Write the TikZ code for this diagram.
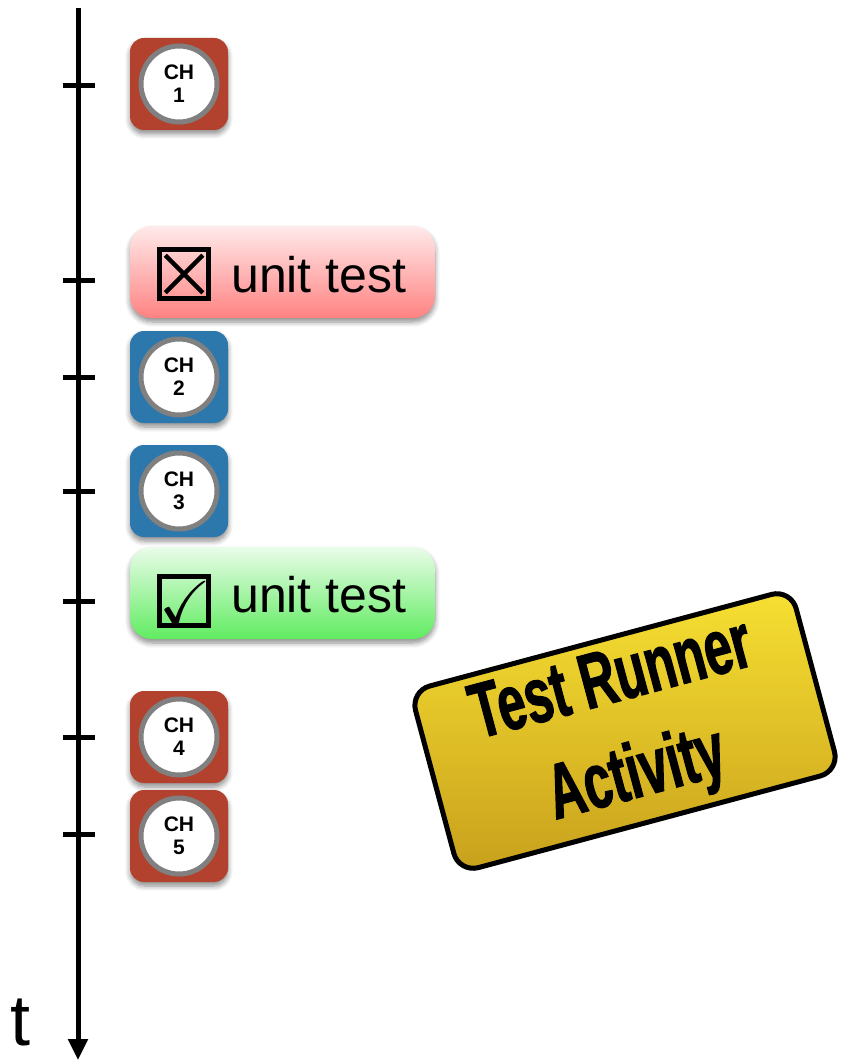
\documentclass[tikz,border=0pt]{standalone}
\usepackage{amssymb}
\usepackage{fontspec}
\setmainfont{Liberation Sans}
\newfontfamily\cardfont[FakeStretch=0.64,FakeBold=1.4]{Liberation Sans}
\usetikzlibrary{shadows.blur,arrows.meta}

\definecolor{badgered}{RGB}{178,66,46}
\definecolor{badgeblue}{RGB}{44,120,172}
\definecolor{ringgray}{RGB}{128,128,128}
\definecolor{failtop}{RGB}{255,234,234}
\definecolor{failbottom}{RGB}{255,130,130}
\definecolor{passtop}{RGB}{234,252,234}
\definecolor{passbottom}{RGB}{96,236,96}
\definecolor{cardtop}{RGB}{247,224,50}
\definecolor{cardbottom}{RGB}{200,160,28}

\tikzset{
  softshadow/.style={blur shadow={shadow xshift=0pt, shadow yshift=-4pt,
      shadow blur radius=5pt, shadow blur steps=6, shadow opacity=45}},
  badge/.style={rounded corners=14pt, minimum width=98pt, minimum height=92pt,
      inner sep=0pt, softshadow},
  ring/.style={circle, draw=ringgray, line width=5pt, fill=white,
      minimum size=76pt, inner sep=0pt, align=center,
      font=\fontsize{21}{23}\selectfont\bfseries},
  testbox/.style={rounded corners=22pt, minimum width=305pt, minimum height=92pt,
      inner sep=0pt, softshadow},
  tickbox/.style={draw, line width=4.5pt, minimum size=49pt, inner sep=0pt},
  testlabel/.style={anchor=base west, inner sep=0pt, font=\fontsize{50}{50}\selectfont},
  axis/.style={line width=5pt, -{Triangle[length=21pt,width=19pt]}},
  tickmark/.style={line width=5pt},
  card/.style={draw, line width=5pt, rounded corners=20pt,
      minimum width=394pt, minimum height=188pt, align=center,
      top color=cardtop, bottom color=cardbottom,
      font=\cardfont\fontsize{78}{98}\selectfont\bfseries},
}

\begin{document}
\begin{tikzpicture}[x=1pt,y=-1pt]
  \useasboundingbox (0,0) rectangle (843,1064);

  % time axis
  \coordinate (axtop) at (78,8);
  \coordinate (axend) at (78,1060);
  \draw[axis] (axtop) -- (axend);
  \foreach \y in {86,281,377,491,601,737,834}
    \draw[tickmark] (63,\y) -- (95,\y);
  \node[font=\fontsize{72}{72}\selectfont, anchor=base, inner sep=0pt] (tlabel) at (21,1045) {t};

  % change badges
  \node[badge, fill=badgered] (ch1b) at (179,84) {};
  \node[ring] (ch1) at (ch1b) {CH\\1};
  \node[badge, fill=badgeblue] (ch2b) at (179,377) {};
  \node[ring] (ch2) at (ch2b) {CH\\2};
  \node[badge, fill=badgeblue] (ch3b) at (179,491) {};
  \node[ring] (ch3) at (ch3b) {CH\\3};
  \node[badge, fill=badgered] (ch4b) at (179,737) {};
  \node[ring] (ch4) at (ch4b) {CH\\4};
  \node[badge, fill=badgered] (ch5b) at (179,836) {};
  \node[ring] (ch5) at (ch5b) {CH\\5};

  % failing unit test
  \node[testbox, top color=failtop, bottom color=failbottom] (fail) at (282.5,272) {};
  \node[tickbox] (failbox) at (184,274) {};
  \draw[line width=4.5pt] ([shift={(8pt,-8pt)}]failbox.north west) -- ([shift={(-8pt,8pt)}]failbox.south east);
  \draw[line width=4.5pt] ([shift={(-8pt,-8pt)}]failbox.north east) -- ([shift={(8pt,8pt)}]failbox.south west);
  \node[testlabel] (failtext) at (231,292) {unit test};

  % passing unit test
  \node[testbox, top color=passtop, bottom color=passbottom] (pass) at (282.5,593) {};
  \node[tickbox] (passbox) at (184,601) {};
  \node[inner sep=0pt, font=\fontsize{62}{62}\selectfont] (passmark) at (185,603) {$\checkmark$};
  \node[testlabel] (passtext) at (231,612) {unit test};

  % activity card
  \node[card, rotate=15] (runner) at (625,731) {Test Runner\\Activity};
\end{tikzpicture}
\end{document}
